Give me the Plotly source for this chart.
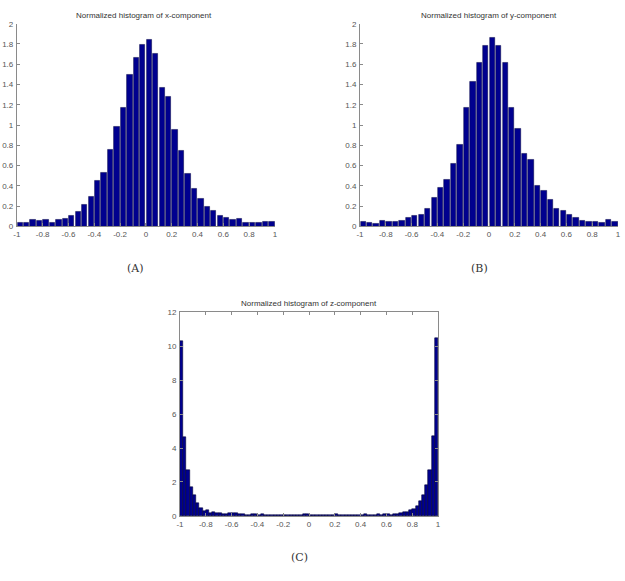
import plotly.graph_objects as go

# ---- data ----
bin_width_ab = 0.05
x_component = [0.04, 0.04, 0.07, 0.06, 0.07, 0.04, 0.07, 0.08, 0.11, 0.15,
               0.22, 0.29, 0.45, 0.53, 0.76, 0.98, 1.17, 1.50, 1.66, 1.79,
               1.84, 1.70, 1.37, 1.28, 0.95, 0.75, 0.52, 0.37, 0.27, 0.20,
               0.16, 0.11, 0.09, 0.07, 0.08, 0.04, 0.04, 0.04, 0.05, 0.05]
y_component = [0.05, 0.04, 0.03, 0.06, 0.05, 0.05, 0.06, 0.09, 0.11, 0.12,
               0.18, 0.28, 0.38, 0.46, 0.62, 0.81, 1.17, 1.43, 1.62, 1.78,
               1.86, 1.78, 1.62, 1.17, 0.96, 0.72, 0.66, 0.40, 0.35, 0.26,
               0.18, 0.16, 0.12, 0.09, 0.06, 0.05, 0.05, 0.04, 0.07, 0.05]
bin_width_c = 0.025
z_component = [10.28, 4.62, 2.71, 1.68, 1.21, 0.74, 0.45, 0.30, 0.33, 0.18,
               0.25, 0.18, 0.14, 0.13, 0.13, 0.15, 0.16, 0.14, 0.12, 0.10,
               0.06, 0.05, 0.08, 0.08, 0.07, 0.08, 0.06, 0.03, 0.04, 0.05,
               0.05, 0.05, 0.05, 0.04, 0.06, 0.05, 0.05, 0.07, 0.09, 0.08,
               0.06, 0.05, 0.05, 0.04, 0.05, 0.04, 0.05, 0.06, 0.08, 0.05,
               0.07, 0.05, 0.04, 0.05, 0.06, 0.05, 0.07, 0.08, 0.06, 0.04,
               0.07, 0.08, 0.07, 0.08, 0.08, 0.07, 0.09, 0.12, 0.15, 0.20,
               0.25, 0.33, 0.42, 0.58, 0.85, 1.20, 1.80, 2.67, 4.72, 10.48]

x_ticks = [-1, -0.8, -0.6, -0.4, -0.2, 0, 0.2, 0.4, 0.6, 0.8, 1]
x_ticklabels = ["-1", "-0.8", "-0.6", "-0.4", "-0.2", "0", "0.2", "0.4", "0.6", "0.8", "1"]
y_ticks_ab = [0, 0.2, 0.4, 0.6, 0.8, 1, 1.2, 1.4, 1.6, 1.8, 2]
y_ticklabels_ab = ["0", "0.2", "0.4", "0.6", "0.8", "1", "1.2", "1.4", "1.6", "1.8", "2"]
y_ticks_c = [0, 2, 4, 6, 8, 10, 12]
y_ticklabels_c = ["0", "2", "4", "6", "8", "10", "12"]

titles = ["Normalized histogram of x-component",
          "Normalized histogram of y-component",
          "Normalized histogram of z-component"]
captions = ["(A)", "(B)", "(C)"]

W, H = 625, 581
BAR = "#00008F"
TXT = "#555555"
AX = "#8a8a8a"

def centers(n, start, w):
    return [start + w * (i + 0.5) for i in range(n)]

def px(x):
    return x / W

def py(y):
    return 1 - y / H

fig = go.Figure()
fig.add_trace(go.Bar(x=centers(len(x_component), -1, bin_width_ab), y=x_component,
                     width=bin_width_ab * 0.82, marker=dict(color=BAR, line=dict(color="#000040", width=0.5)),
                     xaxis="x", yaxis="y", showlegend=False))
fig.add_trace(go.Bar(x=centers(len(y_component), -1, bin_width_ab), y=y_component,
                     width=bin_width_ab * 0.82, marker=dict(color=BAR, line=dict(color="#000040", width=0.5)),
                     xaxis="x2", yaxis="y2", showlegend=False))
fig.add_trace(go.Bar(x=centers(len(z_component), -1, bin_width_c), y=z_component,
                     width=bin_width_c, marker=dict(color=BAR, line=dict(color="#000030", width=0.6)),
                     xaxis="x3", yaxis="y3", showlegend=False))

tickfont = dict(family="Liberation Sans, Arial", size=8, color=TXT)

def xax(domain, anchor, mirror):
    return dict(domain=domain, anchor=anchor, range=[-1, 1], tickvals=x_ticks, ticktext=x_ticklabels,
                ticks="inside", ticklen=3, tickcolor=AX, showline=True, linecolor=AX, linewidth=1,
                mirror=mirror, showgrid=False, zeroline=False, tickfont=tickfont, ticklabelstandoff=0)

def yax(domain, anchor, rng, tv, tt, mirror):
    return dict(domain=domain, anchor=anchor, range=rng, tickvals=tv, ticktext=tt,
                ticks="inside", ticklen=3, tickcolor=AX, showline=True, linecolor=AX, linewidth=1,
                mirror=mirror, showgrid=False, zeroline=False, tickfont=tickfont, ticklabelstandoff=1)

fig.update_layout(
    width=W, height=H, margin=dict(l=0, r=0, t=0, b=0),
    paper_bgcolor="white", plot_bgcolor="white", bargap=0,
    xaxis=xax([px(13), px(274)], "y", False),
    yaxis=yax([py(226), py(20)], "x", [0, 2], y_ticks_ab, y_ticklabels_ab, False),
    xaxis2=xax([px(360), px(621)], "y2", False),
    yaxis2=yax([py(226), py(20)], "x2", [0, 2], y_ticks_ab, y_ticklabels_ab, False),
    xaxis3=xax([px(178), px(439)], "y3", "ticks"),
    yaxis3=yax([py(520), py(313)], "x3", [0, 12], y_ticks_c, y_ticklabels_c, "ticks"),
)

title_pos = [(142, 12), (490, 12), (308, 304)]
for t, (x, y) in zip(titles, title_pos):
    fig.add_annotation(text=t, x=px(x), y=py(y), xref="paper", yref="paper", showarrow=False,
                       xanchor="center", yanchor="middle",
                       font=dict(family="Liberation Sans, Arial", size=8, color="#333333"))

cap_pos = [(133, 269), (481, 269), (299, 562)]
for c, (x, y) in zip(captions, cap_pos):
    fig.add_annotation(text=c, x=px(x), y=py(y), xref="paper", yref="paper", showarrow=False,
                       xanchor="center", yanchor="middle",
                       font=dict(family="DejaVu Serif, Liberation Serif", size=11, color="#333333"))

fig.write_html("out.html")
